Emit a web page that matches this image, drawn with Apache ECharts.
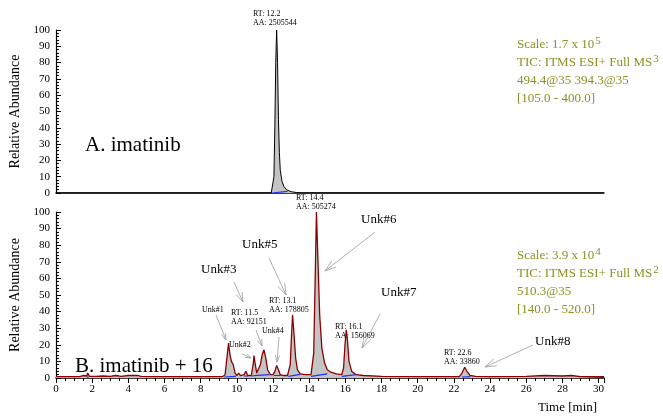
<!DOCTYPE html>
<html><head><meta charset="utf-8">
<script src="https://cdn.jsdelivr.net/npm/echarts@6/dist/echarts.min.js"></script>
<style>html,body{margin:0;padding:0;background:#fff}#c{width:663px;height:417px}</style>
</head><body><div id="c"></div>
<script>
// ---- Data ----
const timeA = [0, 11.9, 12.0, 12.05, 12.1, 12.15, 12.2, 12.25, 12.3, 12.35, 12.4, 12.5, 12.6, 12.75, 13.0, 13.3, 13.6, 30.3];
const intenA = [0, 0, 0.5, 10, 40, 80, 100, 80, 45, 25, 14, 7, 4, 2, 0.8, 0.3, 0, 0];

const timeB = [0, 1.3, 1.4, 1.5, 1.6, 1.7, 1.75, 1.85, 2.2, 2.6, 3.0, 3.3, 3.6, 4.0, 4.5, 4.7, 5.5, 7, 8, 9.2, 9.35, 9.45, 9.54, 9.62, 9.7, 9.8, 9.9, 10.0, 10.1, 10.2, 10.4, 10.5, 10.6, 10.8, 10.9, 10.95, 11.02, 11.1, 11.2, 11.3, 11.4, 11.5, 11.6, 11.7, 11.85, 12.0, 12.1, 12.2, 12.3, 12.4, 12.6, 12.8, 12.95, 13.02, 13.08, 13.15, 13.25, 13.35, 13.5, 13.8, 14.1, 14.25, 14.33, 14.4, 14.48, 14.58, 14.7, 14.85, 15.0, 15.2, 15.5, 15.8, 15.9, 15.98, 16.05, 16.12, 16.2, 16.35, 16.6, 17, 18, 20, 22.3, 22.45, 22.6, 22.75, 22.9, 23.2, 24, 26, 27, 28, 28.5, 29, 30.3];
const intenB = [0.8, 0.8, 2, 1.5, 1, 1.2, 3, 1, 1, 1.2, 1, 1.5, 1, 1.5, 1.6, 1, 0.8, 0.8, 0.8, 0.8, 2, 12, 21, 14, 10, 8, 3, 1.5, 3, 1.5, 2, 4, 1.5, 1.5, 8, 13.5, 8, 3, 3, 8, 14, 17, 12, 5, 2, 2, 4, 7.5, 5, 2, 1.5, 1.5, 8, 25, 38, 28, 12, 5, 2.5, 2, 2, 15, 60, 100, 72, 38, 18, 9, 5, 3.5, 2.5, 2, 6, 20, 29, 22, 10, 4, 2, 1.5, 1, 0.8, 0.8, 3, 6.5, 3.5, 1.5, 1, 0.8, 1, 1.5, 1.2, 1.5, 0.8, 0.8];

// integration baselines (null separates segments)
const baseTimeA = [11.95, 12.8];
const baseValA = [0, 1];
const baseTimeB = [1.7, 1.8, null, 9.3, 9.95, null, 10.4, 10.62, null, 10.8, 11.15, null, 11.15, 11.8, null, 12.05, 12.45, null, 12.85, 13.5, null, 14.1, 15.0, null, 15.8, 16.6, null, 22.45, 22.9];
const baseValB = [0.5, 0.5, null, 0.6, 1.0, null, 1.2, 1.2, null, 1.2, 1.6, null, 1.6, 2.0, null, 1.5, 1.5, null, 1.0, 2.2, null, 1.0, 2.5, null, 1.0, 2.0, null, 0.6, 0.8];

const xTickInterval = 2;
const yTickInterval = 10;

const infoA = ['Scale: 1.7 x 10|5', 'TIC: ITMS ESI+ Full MS|3', '494.4@35 394.3@35', '[105.0 - 400.0]'];
const infoB = ['Scale: 3.9 x 10|4', 'TIC: ITMS ESI+ Full MS|2', '510.3@35', '[140.0 - 520.0]'];

// ---- Chart ----
const SERIF = '"Liberation Serif", "DejaVu Serif", serif';
const OLIVE = '#8f8f22';
const zip = (t, v) => t.map((x, i) => (x === null ? [null, null] : [x, v[i]]));

const chart = echarts.init(document.getElementById('c'), null, {renderer: 'canvas'});

function yAxisCfg(gi) {
  return {
    type: 'value', gridIndex: gi, min: 0, max: 100, interval: yTickInterval,
    name: 'Relative Abundance', nameLocation: 'middle', nameGap: 30, nameRotate: 90,
    nameTextStyle: {fontFamily: SERIF, fontSize: 14, color: '#000'},
    axisLine: {show: true, lineStyle: {color: '#000', width: 1.2}},
    axisTick: {show: true, inside: true, length: 5, lineStyle: {color: '#000'}},
    minorTick: {show: true, splitNumber: 5, length: 3, lineStyle: {color: '#000'}},
    axisLabel: {fontFamily: SERIF, fontSize: 11, color: '#000', margin: 6},
    splitLine: {show: false}
  };
}

const tx = (text, x, y, size, color) => ({
  type: 'text', x: x, y: y, silent: true,
  style: {text: text, fill: color || '#000', font: size + 'px ' + SERIF, align: 'left', verticalAlign: 'middle'}
});
function supText(s, x, y) {
  const parts = s.split('|');
  if (parts.length === 1) return tx(s, x, y, 13, OLIVE);
  return {
    type: 'text', x: x, y: y, silent: true,
    style: {
      text: '{a|' + parts[0] + '}{s|' + parts[1] + '}',
      align: 'left', verticalAlign: 'middle',
      rich: {
        a: {fontFamily: SERIF, fontSize: 13, fill: OLIVE, color: OLIVE, lineHeight: 18},
        s: {fontFamily: SERIF, fontSize: 11, fill: OLIVE, color: OLIVE, verticalAlign: 'top', lineHeight: 18, padding: [0, 0, 7, 1]}
      }
    }
  };
}
function arrow(x1, y1, x2, y2, head) {
  const a = Math.atan2(y2 - y1, x2 - x1), L = head || 11, g = 0.32;
  const st = {stroke: '#9a9a9a', lineWidth: 0.8, fill: null};
  return [
    {type: 'line', silent: true, shape: {x1, y1, x2, y2}, style: st},
    {type: 'polyline', silent: true, shape: {points: [
      [x2 - L * Math.cos(a - g), y2 - L * Math.sin(a - g)], [x2, y2],
      [x2 - L * Math.cos(a + g), y2 - L * Math.sin(a + g)]]}, style: st}
  ];
}

const graphics = [];
graphics.push(tx('RT: 12.2', 253, 14, 8), tx('AA: 2505544', 253, 23, 8));
graphics.push(tx('A. imatinib', 85, 145, 21));
infoA.forEach((s, i) => graphics.push(supText(s, 517, 45 + i * 18)));
infoB.forEach((s, i) => graphics.push(supText(s, 517, 256 + i * 18)));
graphics.push(tx('B. imatinib + 16', 75, 366, 21));
graphics.push(tx('Time [min]', 538, 408, 13));
graphics.push(tx('RT: 14.4', 296, 198, 8), tx('AA: 505274', 296, 207, 8));
graphics.push(tx('RT: 11.5', 231, 313, 8), tx('AA: 92151', 231, 322, 8));
graphics.push(tx('RT: 13.1', 269, 301, 8), tx('AA: 178805', 269, 310, 8));
graphics.push(tx('RT: 16.1', 335, 327, 8), tx('AA: 156069', 335, 336, 8));
graphics.push(tx('RT: 22.6', 444, 353, 8), tx('AA: 33860', 444, 362, 8));
graphics.push(tx('Unk#6', 361, 220, 13), tx('Unk#5', 242, 245, 13), tx('Unk#3', 201, 270, 13));
graphics.push(tx('Unk#7', 381, 293, 13), tx('Unk#8', 535, 342, 13));
graphics.push(tx('Unk#1', 202, 310, 8), tx('Unk#2', 229, 345, 8), tx('Unk#4', 262, 331, 8));
graphics.push(...arrow(375, 232, 325, 271, 12));
graphics.push(...arrow(269, 258, 286, 295, 12));
graphics.push(...arrow(234, 282, 243, 302, 10));
graphics.push(...arrow(380, 314, 362, 348, 12));
graphics.push(...arrow(533, 345, 485, 367, 12));
graphics.push(...arrow(216, 315, 226, 340, 7));
graphics.push(...arrow(242, 354, 251, 358, 6));
graphics.push(...arrow(256, 330, 262, 346, 7));
graphics.push(...arrow(279, 337, 277, 362, 7));

const option = {
  animation: false,
  backgroundColor: '#fff',
  grid: [
    {left: 56, width: 548, top: 30, height: 163, containLabel: false},
    {left: 56, width: 548, top: 212, height: 166, containLabel: false}
  ],
  xAxis: [
    {type: 'value', gridIndex: 0, min: 0, max: 30.3, interval: xTickInterval,
     axisLine: {show: true, onZero: false, lineStyle: {color: '#000', width: 1.5}},
     axisTick: {show: false}, axisLabel: {show: false}, splitLine: {show: false}},
    {type: 'value', gridIndex: 1, min: 0, max: 30.3, interval: xTickInterval,
     axisLine: {show: true, onZero: false, lineStyle: {color: '#000', width: 1.5}},
     axisTick: {show: true, length: 5, lineStyle: {color: '#000'}},
     minorTick: {show: true, splitNumber: 4, length: 3, lineStyle: {color: '#000'}},
     axisLabel: {fontFamily: SERIF, fontSize: 11, color: '#000', margin: 6, showMaxLabel: false,
                 formatter: v => (Math.abs(v - Math.round(v)) < 1e-6 ? String(Math.round(v)) : '')},
     splitLine: {show: false}}
  ],
  yAxis: [yAxisCfg(0), yAxisCfg(1)],
  series: [
    {type: 'line', xAxisIndex: 0, yAxisIndex: 0, data: zip(timeA, intenA), symbol: 'none',
     lineStyle: {color: '#000', width: 1}, areaStyle: {color: '#c4c4c4', opacity: 1}, z: 2},
    {type: 'line', xAxisIndex: 0, yAxisIndex: 0, data: zip(baseTimeA, baseValA), symbol: 'none',
     lineStyle: {color: '#1f2fff', width: 1.2}, z: 3},
    {type: 'line', xAxisIndex: 1, yAxisIndex: 1, data: zip(timeB, intenB), symbol: 'none',
     lineStyle: {color: '#8b0000', width: 1.3}, areaStyle: {color: '#c4c4c4', opacity: 1}, z: 2},
    {type: 'line', xAxisIndex: 1, yAxisIndex: 1, data: zip(baseTimeB, baseValB), symbol: 'none',
     connectNulls: false, lineStyle: {color: '#1f2fff', width: 1.2}, z: 3}
  ],
  graphic: graphics
};
chart.setOption(option);
</script>
</body></html>
